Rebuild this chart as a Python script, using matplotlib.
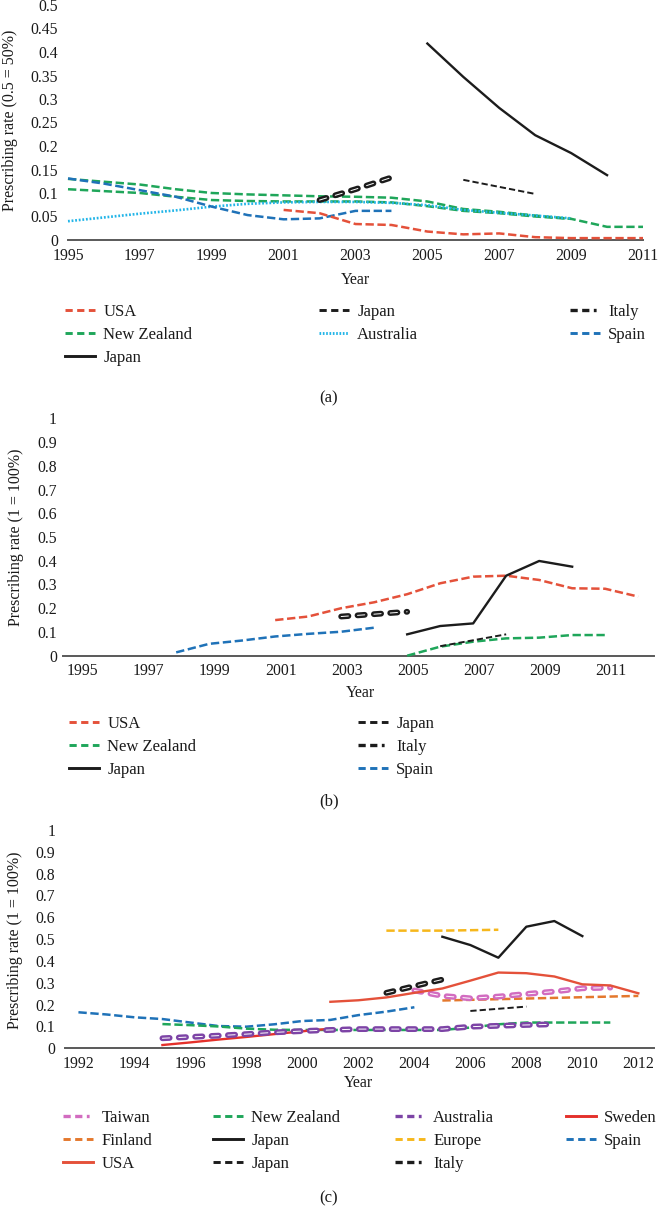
import matplotlib
matplotlib.use('Agg')
import matplotlib.pyplot as plt
from matplotlib.lines import Line2D

plt.rcParams['font.family'] = ['Liberation Serif', 'DejaVu Serif']
plt.rcParams['lines.scale_dashes'] = False

W, H = 658, 1217

# colours
RED = '#e4513a'
GREEN = '#1fa65a'
BLUE = '#1f72b8'
CYAN = '#22b5e8'
BLACK = '#1c1c1c'
PURPLE = '#7d44a6'
PINK = '#d26cc0'
ORANGE = '#e4782d'
YELLOW = '#f6b71c'
SWEDEN = '#e4312b'

# ---- panel (a), 0.5 = 50%
a_usa_years = list(range(2001, 2012))
a_usa = [0.064, 0.057, 0.034, 0.032, 0.018, 0.012, 0.014, 0.006, 0.004, 0.004, 0.004]
a_nz_years = list(range(1995, 2012))
a_nz = [0.13, 0.124, 0.118, 0.108, 0.1, 0.097, 0.095, 0.093, 0.092, 0.09, 0.082,
        0.066, 0.06, 0.052, 0.045, 0.028, 0.028]
a_nz2_years = list(range(1995, 2010))
a_nz2 = [0.108, 0.104, 0.1, 0.092, 0.085, 0.083, 0.082, 0.082, 0.082, 0.08, 0.072,
         0.062, 0.057, 0.05, 0.045]
a_aus_years = list(range(1995, 2010))
a_aus = [0.04, 0.048, 0.056, 0.063, 0.071, 0.077, 0.08, 0.081, 0.081, 0.079, 0.074,
         0.064, 0.058, 0.052, 0.046]
a_spain_years = list(range(1995, 2005))
a_spain = [0.131, 0.12, 0.106, 0.092, 0.071, 0.053, 0.044, 0.046, 0.062, 0.062]
a_italy_years = [2002, 2003, 2004]
a_italy = [0.085, 0.108, 0.133]
a_japan_d_years = [2006, 2007, 2008]
a_japan_d = [0.128, 0.113, 0.098]
a_japan_years = list(range(2005, 2011))
a_japan = [0.418, 0.347, 0.281, 0.223, 0.185, 0.138]
a_yticks = [0, 0.05, 0.1, 0.15, 0.2, 0.25, 0.3, 0.35, 0.4, 0.45, 0.5]
a_ylabels = ['0', '0.05', '0.1', '0.15', '0.2', '0.25', '0.3', '0.35', '0.4', '0.45', '0.5']
a_xticks = list(range(1995, 2012, 2))

# ---- panel (b), 1 = 100%
b_usa_years = list(range(2001, 2013))
b_usa = [0.15, 0.165, 0.2, 0.225, 0.259, 0.305, 0.333, 0.337, 0.319, 0.284, 0.282, 0.249]
b_nz_years = list(range(2005, 2012))
b_nz = [0.0, 0.038, 0.059, 0.073, 0.076, 0.087, 0.087]
b_japan_years = list(range(2005, 2011))
b_japan = [0.09, 0.125, 0.136, 0.337, 0.399, 0.375]
b_japan_d_years = [2006, 2007, 2008]
b_japan_d = [0.04, 0.065, 0.09]
b_italy_years = [2003, 2004, 2005]
b_italy = [0.165, 0.175, 0.185]
b_spain_years = list(range(1998, 2005))
b_spain = [0.014, 0.05, 0.064, 0.081, 0.092, 0.101, 0.118]
b_xticks = list(range(1995, 2012, 2))

# ---- panel (c), 1 = 100%
c_taiwan_years = list(range(2004, 2012))
c_taiwan = [0.265, 0.24, 0.229, 0.237, 0.249, 0.26, 0.275, 0.278]
c_finland_years = list(range(2005, 2013))
c_finland = [0.219, 0.222, 0.225, 0.228, 0.231, 0.234, 0.237, 0.24]
c_usa_years = list(range(2001, 2013))
c_usa = [0.213, 0.22, 0.233, 0.254, 0.274, 0.31, 0.347, 0.344, 0.329, 0.293, 0.288, 0.252]
c_nz_years = list(range(1995, 2012))
c_nz = [0.111, 0.106, 0.1, 0.09, 0.085, 0.084, 0.084, 0.084, 0.084, 0.084, 0.084,
        0.095, 0.11, 0.118, 0.118, 0.118, 0.118]
c_japan_years = list(range(2005, 2011))
c_japan = [0.511, 0.473, 0.415, 0.557, 0.583, 0.514]
c_japan_d_years = [2006, 2007, 2008]
c_japan_d = [0.171, 0.181, 0.191]
c_aus_years = list(range(1995, 2010))
c_aus = [0.046, 0.052, 0.058, 0.065, 0.073, 0.079, 0.084, 0.088, 0.088, 0.088, 0.088,
         0.099, 0.103, 0.107, 0.11]
c_europe_years = list(range(2003, 2008))
c_europe = [0.539, 0.539, 0.539, 0.541, 0.543]
c_italy_years = [2003, 2004, 2005]
c_italy = [0.254, 0.285, 0.315]
c_sweden_years = list(range(1995, 2002))
c_sweden = [0.015, 0.027, 0.04, 0.052, 0.065, 0.078, 0.09]
c_spain_years = list(range(1992, 2005))
c_spain = [0.165, 0.155, 0.142, 0.134, 0.118, 0.102, 0.099, 0.11, 0.125, 0.13, 0.152,
           0.168, 0.188]
c_xticks = list(range(1992, 2013, 2))

unit_yticks = [0, 0.1, 0.2, 0.3, 0.4, 0.5, 0.6, 0.7, 0.8, 0.9, 1]
unit_ylabels = ['0', '0.1', '0.2', '0.3', '0.4', '0.5', '0.6', '0.7', '0.8', '0.9', '1']

fig = plt.figure(figsize=(W / 100, H / 100), dpi=100)


def draw(ax, x, y, color, kind):
    if kind == 'solid':
        ax.plot(x, y, color=color, lw=1.7, clip_on=False)
    elif kind == 'dash':
        ax.plot(x, y, color=color, lw=1.8, dashes=(6, 2.6), clip_on=False)
    elif kind == 'thin':
        ax.plot(x, y, color=color, lw=1.4, dashes=(4.5, 2.2), clip_on=False)
    elif kind == 'dot':
        ax.plot(x, y, color=color, lw=1.9, dashes=(1.3, 1.3), clip_on=False)
    elif kind == 'double':
        ax.plot(x, y, color=color, lw=4.2, dashes=(5.2, 6.6), dash_capstyle='round', clip_on=False)
        ax.plot(x, y, color='white', lw=0.7, dashes=(5.2, 6.6), dash_capstyle='round', clip_on=False)


def handle(color, kind):
    if kind == 'solid':
        return Line2D([], [], color=color, lw=2.1)
    if kind == 'dot':
        return Line2D([], [], color=color, lw=2.1, dashes=(1.2, 1.2))
    if kind == 'double':
        return Line2D([], [], color=color, lw=2.4, dashes=(5.2, 3.2, 5.2, 3.2, 2, 3.2))
    return Line2D([], [], color=color, lw=2.1, dashes=(5.2, 3.2))


def make_axes(left, right, bottom, top, xlim, ylim):
    ax = fig.add_axes([left / W, 1 - bottom / H, (right - left) / W, (bottom - top) / H])
    ax.set_xlim(*xlim)
    ax.set_ylim(*ylim)
    for s in ['left', 'right', 'top']:
        ax.spines[s].set_visible(False)
    ax.spines['bottom'].set_color('#595959')
    ax.spines['bottom'].set_linewidth(1.4)
    ax.spines['bottom'].set_zorder(0)
    ax.tick_params(length=0, labelsize=11.3, colors='#1a1a1a')
    ax.tick_params(axis='x', pad=5.5)
    return ax


def legend_col(entries, x, y):
    handles = [handle(c, k) for _, c, k in entries]
    labels = [n for n, _, _ in entries]
    fig.legend(handles, labels, loc='upper left', bbox_to_anchor=(x / W, 1 - y / H),
               frameon=False, fontsize=12, handlelength=1.8, handletextpad=0.5,
               borderpad=0, borderaxespad=0, labelspacing=0.42, labelcolor='#1a1a1a')


def ftext(x, y, s, **kw):
    fig.text(x / W, 1 - y / H, s, ha='center', va='center', color='#1a1a1a', **kw)


# ---------------- (a)
ax = make_axes(68, 643, 240, 5, (1995, 2011), (0, 0.5))
draw(ax, a_nz_years, a_nz, GREEN, 'dash')
draw(ax, a_nz2_years, a_nz2, GREEN, 'dash')
draw(ax, a_aus_years, a_aus, CYAN, 'dot')
draw(ax, a_spain_years, a_spain, BLUE, 'dash')
draw(ax, a_usa_years, a_usa, RED, 'dash')
draw(ax, a_japan_d_years, a_japan_d, BLACK, 'thin')
draw(ax, a_japan_years, a_japan, BLACK, 'solid')
draw(ax, a_italy_years, a_italy, BLACK, 'double')
ax.set_yticks(a_yticks, a_ylabels)
ax.set_xticks(a_xticks)
ax.tick_params(axis='y', pad=7)
ftext(10, 120, 'Prescribing rate (0.5 = 50%)', rotation=90, fontsize=11.5)
ftext(355, 280, 'Year', fontsize=11.5)
legend_col([('USA', RED, 'dash'), ('New Zealand', GREEN, 'dash'), ('Japan', BLACK, 'solid')], 65, 304)
legend_col([('Japan', BLACK, 'dash'), ('Australia', CYAN, 'dot')], 319, 304)
legend_col([('Italy', BLACK, 'double'), ('Spain', BLUE, 'dash')], 570, 304)
ftext(329, 398, '(a)', fontsize=12)

# ---------------- (b)
ax = make_axes(63, 654, 655.7, 418.3, (1994.57, 2012.48), (0, 1))
draw(ax, b_spain_years, b_spain, BLUE, 'dash')
draw(ax, b_usa_years, b_usa, RED, 'dash')
draw(ax, b_nz_years, b_nz, GREEN, 'dash')
draw(ax, b_japan_d_years, b_japan_d, BLACK, 'thin')
draw(ax, b_japan_years, b_japan, BLACK, 'solid')
draw(ax, b_italy_years, b_italy, BLACK, 'double')
ax.set_yticks(unit_yticks, unit_ylabels)
ax.set_xticks([t + 0.17 for t in b_xticks], [str(t) for t in b_xticks])
ax.tick_params(axis='y', pad=4.5)
ftext(16, 537, 'Prescribing rate (1 = 100%)', rotation=90, fontsize=11.5)
ftext(360, 693, 'Year', fontsize=11.5)
legend_col([('USA', RED, 'dash'), ('New Zealand', GREEN, 'dash'), ('Japan', BLACK, 'solid')], 69, 716)
legend_col([('Japan', BLACK, 'dash'), ('Italy', BLACK, 'double'), ('Spain', BLUE, 'dash')], 358, 716)
ftext(329, 801, '(b)', fontsize=12)

# ---------------- (c)
ax = make_axes(65, 654, 1048.3, 830, (1991.52, 2012.56), (0, 1))
draw(ax, c_spain_years, c_spain, BLUE, 'dash')
draw(ax, c_nz_years, c_nz, GREEN, 'dash')
draw(ax, c_sweden_years, c_sweden, SWEDEN, 'solid')
draw(ax, c_aus_years, c_aus, PURPLE, 'double')
draw(ax, c_finland_years, c_finland, ORANGE, 'dash')
draw(ax, c_taiwan_years, c_taiwan, PINK, 'double')
draw(ax, c_usa_years, c_usa, RED, 'solid')
draw(ax, c_europe_years, c_europe, YELLOW, 'dash')
draw(ax, c_japan_years, c_japan, BLACK, 'solid')
draw(ax, c_japan_d_years, c_japan_d, BLACK, 'thin')
draw(ax, c_italy_years, c_italy, BLACK, 'double')
ax.set_yticks(unit_yticks, unit_ylabels)
ax.set_xticks(c_xticks)
ax.tick_params(axis='y', pad=7)
ftext(15, 940, 'Prescribing rate (1 = 100%)', rotation=90, fontsize=11.5)
ftext(358, 1083, 'Year', fontsize=11.5)
legend_col([('Taiwan', PINK, 'double'), ('Finland', ORANGE, 'dash'), ('USA', RED, 'solid')], 63, 1110)
legend_col([('New Zealand', GREEN, 'dash'), ('Japan', BLACK, 'solid'), ('Japan', BLACK, 'dash')], 213, 1110)
legend_col([('Australia', PURPLE, 'double'), ('Europe', YELLOW, 'dash'), ('Italy', BLACK, 'double')], 395, 1110)
legend_col([('Sweden', SWEDEN, 'solid'), ('Spain', BLUE, 'dash')], 566, 1110)
ftext(329, 1198, '(c)', fontsize=12)

fig.savefig('out.png', dpi=100)
